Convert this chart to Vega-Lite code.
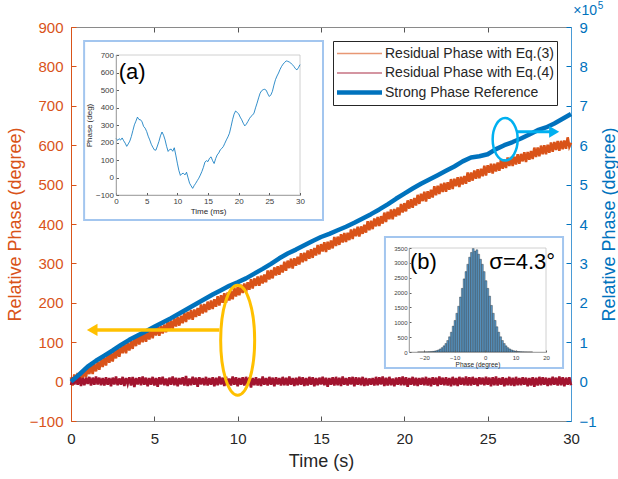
{
  "$schema": "https://vega.github.io/schema/vega-lite/v6.json",
  "width": 500,
  "height": 394,
  "autosize": {"type": "none"},
  "padding": {"left": 71, "top": 27, "right": 47, "bottom": 58},
  "background": "white",
  "config": {
    "view": {"stroke": null},
    "font": "Liberation Sans",
    "axis": {"grid": false, "labelFont": "Liberation Sans", "titleFont": "Liberation Sans", "titleFontWeight": "normal", "labelFlush": false}
  },
  "datasets": {
    "residual": [
      {"t":0,"e3":11,"e4":-9},{"t":0.1,"e3":-10,"e4":10},{"t":0.2,"e3":18,"e4":-7},{"t":0.3,"e3":-3,"e4":12},{"t":0.4,"e3":22,"e4":-8},{"t":0.5,"e3":-1,"e4":11},{"t":0.6,"e3":25,"e4":-11},{"t":0.7,"e3":7,"e4":9},{"t":0.8,"e3":34,"e4":-9},{"t":0.9,"e3":11,"e4":10},
      {"t":1,"e3":37,"e4":-6},{"t":1.1,"e3":19,"e4":12},{"t":1.2,"e3":43,"e4":-10},{"t":1.3,"e3":19,"e4":10},{"t":1.4,"e3":45,"e4":-8},{"t":1.5,"e3":26,"e4":13},{"t":1.6,"e3":49,"e4":-7},{"t":1.7,"e3":30,"e4":10},{"t":1.8,"e3":59,"e4":-9},{"t":1.9,"e3":37,"e4":9},
      {"t":2,"e3":61,"e4":-10},{"t":2.1,"e3":41,"e4":11},{"t":2.2,"e3":69,"e4":-8},{"t":2.3,"e3":48,"e4":9},{"t":2.4,"e3":73,"e4":-12},{"t":2.5,"e3":51,"e4":10},{"t":2.6,"e3":77,"e4":-7},{"t":2.7,"e3":59,"e4":13},{"t":2.8,"e3":86,"e4":-9},{"t":2.9,"e3":63,"e4":8},
      {"t":3,"e3":90,"e4":-8},{"t":3.1,"e3":72,"e4":12},{"t":3.2,"e3":96,"e4":-11},{"t":3.3,"e3":72,"e4":9},{"t":3.4,"e3":98,"e4":-6},{"t":3.5,"e3":79,"e4":11},{"t":3.6,"e3":103,"e4":-10},{"t":3.7,"e3":83,"e4":12},{"t":3.8,"e3":113,"e4":-14},{"t":3.9,"e3":90,"e4":9},
      {"t":4,"e3":115,"e4":-7},{"t":4.1,"e3":94,"e4":11},{"t":4.2,"e3":121,"e4":-9},{"t":4.3,"e3":100,"e4":13},{"t":4.4,"e3":124,"e4":-8},{"t":4.5,"e3":101,"e4":10},{"t":4.6,"e3":126,"e4":-12},{"t":4.7,"e3":107,"e4":9},{"t":4.8,"e3":134,"e4":-8},{"t":4.9,"e3":110,"e4":12},
      {"t":5,"e3":136,"e4":-10},{"t":5.1,"e3":117,"e4":9},{"t":5.2,"e3":141,"e4":-13},{"t":5.3,"e3":116,"e4":11},{"t":5.4,"e3":142,"e4":-7},{"t":5.5,"e3":122,"e4":12},{"t":5.6,"e3":145,"e4":-9},{"t":5.7,"e3":125,"e4":8},{"t":5.8,"e3":154,"e4":-11},{"t":5.9,"e3":131,"e4":10},
      {"t":6,"e3":155,"e4":-8},{"t":6.1,"e3":134,"e4":13},{"t":6.2,"e3":161,"e4":-9},{"t":6.3,"e3":140,"e4":10},{"t":6.4,"e3":164,"e4":-12},{"t":6.5,"e3":142,"e4":9},{"t":6.6,"e3":167,"e4":-7},{"t":6.7,"e3":148,"e4":11},{"t":6.8,"e3":175,"e4":-10},{"t":6.9,"e3":151,"e4":14},
      {"t":7,"e3":177,"e4":-11},{"t":7.1,"e3":158,"e4":8},{"t":7.2,"e3":182,"e4":-9},{"t":7.3,"e3":157,"e4":12},{"t":7.4,"e3":183,"e4":-8},{"t":7.5,"e3":164,"e4":10},{"t":7.6,"e3":187,"e4":-13},{"t":7.7,"e3":167,"e4":11},{"t":7.8,"e3":196,"e4":-7},{"t":7.9,"e3":173,"e4":9},
      {"t":8,"e3":197,"e4":-9},{"t":8.1,"e3":176,"e4":12},{"t":8.2,"e3":203,"e4":-10},{"t":8.3,"e3":182,"e4":9},{"t":8.4,"e3":206,"e4":-8},{"t":8.5,"e3":184,"e4":11},{"t":8.6,"e3":209,"e4":-12},{"t":8.7,"e3":190,"e4":10},{"t":8.8,"e3":217,"e4":-9},{"t":8.9,"e3":193,"e4":13},
      {"t":9,"e3":219,"e4":-7},{"t":9.1,"e3":200,"e4":10},{"t":9.2,"e3":224,"e4":-11},{"t":9.3,"e3":200,"e4":12},{"t":9.4,"e3":226,"e4":-9},{"t":9.5,"e3":206,"e4":8},{"t":9.6,"e3":229,"e4":-10},{"t":9.7,"e3":209,"e4":13},{"t":9.8,"e3":239,"e4":-8},{"t":9.9,"e3":216,"e4":11},
      {"t":10,"e3":240,"e4":-12},{"t":10.1,"e3":219,"e4":9},{"t":10.2,"e3":246,"e4":-8},{"t":10.3,"e3":225,"e4":11},{"t":10.4,"e3":249,"e4":-10},{"t":10.5,"e3":227,"e4":12},{"t":10.6,"e3":252,"e4":-7},{"t":10.7,"e3":233,"e4":10},{"t":10.8,"e3":260,"e4":-15},{"t":10.9,"e3":236,"e4":9},
      {"t":11,"e3":262,"e4":-9},{"t":11.1,"e3":243,"e4":11},{"t":11.2,"e3":267,"e4":-10},{"t":11.3,"e3":243,"e4":8},{"t":11.4,"e3":269,"e4":-11},{"t":11.5,"e3":249,"e4":13},{"t":11.6,"e3":272,"e4":-8},{"t":11.7,"e3":252,"e4":9},{"t":11.8,"e3":282,"e4":-10},{"t":11.9,"e3":259,"e4":12},
      {"t":12,"e3":283,"e4":-8},{"t":12.1,"e3":262,"e4":10},{"t":12.2,"e3":290,"e4":-12},{"t":12.3,"e3":269,"e4":11},{"t":12.4,"e3":293,"e4":-7},{"t":12.5,"e3":271,"e4":9},{"t":12.6,"e3":296,"e4":-10},{"t":12.7,"e3":277,"e4":12},{"t":12.8,"e3":304,"e4":-9},{"t":12.9,"e3":281,"e4":10},
      {"t":13,"e3":307,"e4":-10},{"t":13.1,"e3":288,"e4":13},{"t":13.2,"e3":312,"e4":-8},{"t":13.3,"e3":287,"e4":9},{"t":13.4,"e3":313,"e4":-11},{"t":13.5,"e3":294,"e4":10},{"t":13.6,"e3":317,"e4":-9},{"t":13.7,"e3":297,"e4":12},{"t":13.8,"e3":326,"e4":-8},{"t":13.9,"e3":303,"e4":11},
      {"t":14,"e3":327,"e4":-11},{"t":14.1,"e3":306,"e4":9},{"t":14.2,"e3":333,"e4":-10},{"t":14.3,"e3":312,"e4":12},{"t":14.4,"e3":336,"e4":-8},{"t":14.5,"e3":314,"e4":11},{"t":14.6,"e3":339,"e4":-12},{"t":14.7,"e3":320,"e4":9},{"t":14.8,"e3":347,"e4":-9},{"t":14.9,"e3":323,"e4":10},
      {"t":15,"e3":349,"e4":-7},{"t":15.1,"e3":330,"e4":12},{"t":15.2,"e3":354,"e4":-9},{"t":15.3,"e3":329,"e4":10},{"t":15.4,"e3":355,"e4":-13},{"t":15.5,"e3":335,"e4":9},{"t":15.6,"e3":358,"e4":-8},{"t":15.7,"e3":338,"e4":11},{"t":15.8,"e3":367,"e4":-10},{"t":15.9,"e3":344,"e4":12},
      {"t":16,"e3":368,"e4":-9},{"t":16.1,"e3":347,"e4":10},{"t":16.2,"e3":374,"e4":-11},{"t":16.3,"e3":353,"e4":13},{"t":16.4,"e3":377,"e4":-8},{"t":16.5,"e3":354,"e4":9},{"t":16.6,"e3":378,"e4":-10},{"t":16.7,"e3":359,"e4":11},{"t":16.8,"e3":386,"e4":-7},{"t":16.9,"e3":362,"e4":12},
      {"t":17,"e3":388,"e4":-12},{"t":17.1,"e3":369,"e4":11},{"t":17.2,"e3":393,"e4":-8},{"t":17.3,"e3":368,"e4":10},{"t":17.4,"e3":394,"e4":-9},{"t":17.5,"e3":375,"e4":12},{"t":17.6,"e3":398,"e4":-11},{"t":17.7,"e3":378,"e4":9},{"t":17.8,"e3":407,"e4":-10},{"t":17.9,"e3":384,"e4":8},
      {"t":18,"e3":408,"e4":-8},{"t":18.1,"e3":387,"e4":9},{"t":18.2,"e3":414,"e4":-10},{"t":18.3,"e3":394,"e4":12},{"t":18.4,"e3":418,"e4":-9},{"t":18.5,"e3":395,"e4":11},{"t":18.6,"e3":420,"e4":-7},{"t":18.7,"e3":401,"e4":13},{"t":18.8,"e3":429,"e4":-11},{"t":18.9,"e3":405,"e4":10},
      {"t":19,"e3":431,"e4":-10},{"t":19.1,"e3":412,"e4":12},{"t":19.2,"e3":437,"e4":-9},{"t":19.3,"e3":412,"e4":8},{"t":19.4,"e3":438,"e4":-12},{"t":19.5,"e3":419,"e4":10},{"t":19.6,"e3":442,"e4":-8},{"t":19.7,"e3":422,"e4":11},{"t":19.8,"e3":451,"e4":-9},{"t":19.9,"e3":429,"e4":13},
      {"t":20,"e3":453,"e4":-9},{"t":20.1,"e3":432,"e4":11},{"t":20.2,"e3":460,"e4":-13},{"t":20.3,"e3":439,"e4":9},{"t":20.4,"e3":463,"e4":-8},{"t":20.5,"e3":441,"e4":12},{"t":20.6,"e3":466,"e4":-10},{"t":20.7,"e3":447,"e4":10},{"t":20.8,"e3":474,"e4":-11},{"t":20.9,"e3":451,"e4":9},
      {"t":21,"e3":477,"e4":-8},{"t":21.1,"e3":458,"e4":10},{"t":21.2,"e3":482,"e4":-9},{"t":21.3,"e3":457,"e4":12},{"t":21.4,"e3":483,"e4":-10},{"t":21.5,"e3":464,"e4":9},{"t":21.6,"e3":487,"e4":-12},{"t":21.7,"e3":467,"e4":11},{"t":21.8,"e3":496,"e4":-8},{"t":21.9,"e3":473,"e4":10},
      {"t":22,"e3":497,"e4":-11},{"t":22.1,"e3":476,"e4":13},{"t":22.2,"e3":502,"e4":-8},{"t":22.3,"e3":481,"e4":10},{"t":22.4,"e3":505,"e4":-9},{"t":22.5,"e3":482,"e4":11},{"t":22.6,"e3":506,"e4":-10},{"t":22.7,"e3":487,"e4":9},{"t":22.8,"e3":514,"e4":-12},{"t":22.9,"e3":489,"e4":12},
      {"t":23,"e3":515,"e4":-9},{"t":23.1,"e3":496,"e4":9},{"t":23.2,"e3":519,"e4":-11},{"t":23.3,"e3":494,"e4":12},{"t":23.4,"e3":520,"e4":-8},{"t":23.5,"e3":500,"e4":10},{"t":23.6,"e3":522,"e4":-9},{"t":23.7,"e3":502,"e4":13},{"t":23.8,"e3":531,"e4":-10},{"t":23.9,"e3":507,"e4":11},
      {"t":24,"e3":531,"e4":-10},{"t":24.1,"e3":510,"e4":12},{"t":24.2,"e3":536,"e4":-8},{"t":24.3,"e3":515,"e4":9},{"t":24.4,"e3":539,"e4":-11},{"t":24.5,"e3":516,"e4":11},{"t":24.6,"e3":540,"e4":-7},{"t":24.7,"e3":521,"e4":10},{"t":24.8,"e3":548,"e4":-9},{"t":24.9,"e3":523,"e4":12},
      {"t":25,"e3":549,"e4":-8},{"t":25.1,"e3":530,"e4":10},{"t":25.2,"e3":553,"e4":-12},{"t":25.3,"e3":528,"e4":11},{"t":25.4,"e3":553,"e4":-9},{"t":25.5,"e3":533,"e4":13},{"t":25.6,"e3":556,"e4":-10},{"t":25.7,"e3":535,"e4":9},{"t":25.8,"e3":564,"e4":-8},{"t":25.9,"e3":540,"e4":11},
      {"t":26,"e3":564,"e4":-12},{"t":26.1,"e3":542,"e4":9},{"t":26.2,"e3":569,"e4":-9},{"t":26.3,"e3":547,"e4":12},{"t":26.4,"e3":570,"e4":-10},{"t":26.5,"e3":547,"e4":10},{"t":26.6,"e3":571,"e4":-11},{"t":26.7,"e3":551,"e4":12},{"t":26.8,"e3":577,"e4":-9},{"t":26.9,"e3":553,"e4":9},
      {"t":27,"e3":578,"e4":-9},{"t":27.1,"e3":559,"e4":11},{"t":27.2,"e3":582,"e4":-8},{"t":27.3,"e3":557,"e4":10},{"t":27.4,"e3":583,"e4":-12},{"t":27.5,"e3":563,"e4":9},{"t":27.6,"e3":585,"e4":-10},{"t":27.7,"e3":565,"e4":11},{"t":27.8,"e3":594,"e4":-13},{"t":27.9,"e3":570,"e4":10},
      {"t":28,"e3":594,"e4":-10},{"t":28.1,"e3":572,"e4":12},{"t":28.2,"e3":599,"e4":-9},{"t":28.3,"e3":577,"e4":11},{"t":28.4,"e3":600,"e4":-8},{"t":28.5,"e3":577,"e4":10},{"t":28.6,"e3":601,"e4":-11},{"t":28.7,"e3":581,"e4":9},{"t":28.8,"e3":607,"e4":-9},{"t":28.9,"e3":583,"e4":12},
      {"t":29,"e3":608,"e4":-8},{"t":29.1,"e3":588,"e4":10},{"t":29.2,"e3":611,"e4":-10},{"t":29.3,"e3":586,"e4":13},{"t":29.4,"e3":611,"e4":-9},{"t":29.5,"e3":590,"e4":11},{"t":29.6,"e3":612,"e4":-12},{"t":29.7,"e3":591,"e4":10},{"t":29.8,"e3":620,"e4":-8},{"t":29.9,"e3":596,"e4":11},
      {"t":30,"e3":606,"e4":-9}
    ],
    "reference": [
      {"t":0,"phase":0},{"t":0.5,"phase":18000},{"t":1,"phase":38000},{"t":1.5,"phase":53000},{"t":2,"phase":66000},{"t":2.5,"phase":79000},{"t":3,"phase":93000},{"t":3.5,"phase":106000},{"t":4,"phase":117000},{"t":4.5,"phase":128000},
      {"t":5,"phase":139000},{"t":5.5,"phase":150000},{"t":6,"phase":161000},{"t":6.5,"phase":173000},{"t":7,"phase":185000},{"t":7.5,"phase":197000},{"t":8,"phase":209000},{"t":8.5,"phase":221000},{"t":9,"phase":232000},{"t":9.5,"phase":243000},
      {"t":10,"phase":252000},{"t":10.5,"phase":262000},{"t":11,"phase":274000},{"t":11.5,"phase":286000},{"t":12,"phase":299000},{"t":12.5,"phase":313000},{"t":13,"phase":325000},{"t":13.5,"phase":335000},{"t":14,"phase":346000},{"t":14.5,"phase":357000},
      {"t":15,"phase":367000},{"t":15.5,"phase":375000},{"t":16,"phase":384000},{"t":16.5,"phase":393000},{"t":17,"phase":403000},{"t":17.5,"phase":414000},{"t":18,"phase":425000},{"t":18.5,"phase":437000},{"t":19,"phase":450000},{"t":19.5,"phase":464000},
      {"t":20,"phase":477000},{"t":20.5,"phase":490000},{"t":21,"phase":502000},{"t":21.5,"phase":513000},{"t":22,"phase":524000},{"t":22.5,"phase":535000},{"t":23,"phase":546000},{"t":23.5,"phase":559000},{"t":24,"phase":569000},{"t":24.5,"phase":572000},
      {"t":25,"phase":577000},{"t":25.5,"phase":590000},{"t":26,"phase":600000},{"t":26.5,"phase":608000},{"t":27,"phase":617000},{"t":27.5,"phase":627000},{"t":28,"phase":638000},{"t":28.5,"phase":645000},{"t":29,"phase":655000},{"t":29.5,"phase":667000},
      {"t":30,"phase":679000}
    ],
    "detail": [
      {"ms":0,"deg":225},{"ms":0.25,"deg":212},{"ms":0.5,"deg":222},{"ms":0.75,"deg":214},{"ms":1,"deg":226},{"ms":1.25,"deg":210},{"ms":1.5,"deg":196},{"ms":1.75,"deg":178},{"ms":2,"deg":192},{"ms":2.25,"deg":208},
      {"ms":2.5,"deg":234},{"ms":2.75,"deg":268},{"ms":3,"deg":301},{"ms":3.25,"deg":322},{"ms":3.5,"deg":345},{"ms":3.75,"deg":331},{"ms":4,"deg":330},{"ms":4.25,"deg":318},{"ms":4.5,"deg":292},{"ms":4.75,"deg":282},
      {"ms":5,"deg":263},{"ms":5.25,"deg":236},{"ms":5.5,"deg":215},{"ms":5.75,"deg":190},{"ms":6,"deg":173},{"ms":6.25,"deg":158},{"ms":6.5,"deg":156},{"ms":6.75,"deg":180},{"ms":7,"deg":206},{"ms":7.25,"deg":238},
      {"ms":7.5,"deg":260},{"ms":7.75,"deg":242},{"ms":8,"deg":215},{"ms":8.25,"deg":178},{"ms":8.5,"deg":149},{"ms":8.75,"deg":160},{"ms":9,"deg":162},{"ms":9.25,"deg":150},{"ms":9.5,"deg":170},{"ms":9.75,"deg":128},
      {"ms":10,"deg":82},{"ms":10.25,"deg":40},{"ms":10.5,"deg":12},{"ms":10.75,"deg":22},{"ms":11,"deg":24},{"ms":11.25,"deg":15},{"ms":11.5,"deg":30},{"ms":11.75,"deg":-2},{"ms":12,"deg":-33},{"ms":12.25,"deg":-48},
      {"ms":12.5,"deg":-62},{"ms":12.75,"deg":-46},{"ms":13,"deg":-33},{"ms":13.25,"deg":-18},{"ms":13.5,"deg":-4},{"ms":13.75,"deg":14},{"ms":14,"deg":34},{"ms":14.25,"deg":58},{"ms":14.5,"deg":88},{"ms":14.75,"deg":96},
      {"ms":15,"deg":91},{"ms":15.25,"deg":110},{"ms":15.5,"deg":118},{"ms":15.75,"deg":96},{"ms":16,"deg":80},{"ms":16.25,"deg":108},{"ms":16.5,"deg":129},{"ms":16.75,"deg":140},{"ms":17,"deg":158},{"ms":17.25,"deg":166},
      {"ms":17.5,"deg":177},{"ms":17.75,"deg":196},{"ms":18,"deg":215},{"ms":18.25,"deg":232},{"ms":18.5,"deg":253},{"ms":18.75,"deg":290},{"ms":19,"deg":330},{"ms":19.25,"deg":362},{"ms":19.5,"deg":380},{"ms":19.75,"deg":372},
      {"ms":20,"deg":364},{"ms":20.25,"deg":345},{"ms":20.5,"deg":330},{"ms":20.75,"deg":310},{"ms":21,"deg":295},{"ms":21.25,"deg":305},{"ms":21.5,"deg":320},{"ms":21.75,"deg":336},{"ms":22,"deg":349},{"ms":22.25,"deg":356},
      {"ms":22.5,"deg":368},{"ms":22.75,"deg":398},{"ms":23,"deg":425},{"ms":23.25,"deg":455},{"ms":23.5,"deg":482},{"ms":23.75,"deg":496},{"ms":24,"deg":502},{"ms":24.25,"deg":504},{"ms":24.5,"deg":498},{"ms":24.75,"deg":478},
      {"ms":25,"deg":463},{"ms":25.25,"deg":472},{"ms":25.5,"deg":492},{"ms":25.75,"deg":528},{"ms":26,"deg":559},{"ms":26.25,"deg":580},{"ms":26.5,"deg":597},{"ms":26.75,"deg":618},{"ms":27,"deg":635},{"ms":27.25,"deg":648},
      {"ms":27.5,"deg":658},{"ms":27.75,"deg":666},{"ms":28,"deg":664},{"ms":28.25,"deg":660},{"ms":28.5,"deg":654},{"ms":28.75,"deg":645},{"ms":29,"deg":635},{"ms":29.25,"deg":622},{"ms":29.5,"deg":615},{"ms":29.75,"deg":628},
      {"ms":30,"deg":645}
    ],
    "histogram": [
      {"lo":-22.2,"hi":-21.6,"n":1},{"lo":-21.6,"hi":-21.0,"n":1},{"lo":-21.0,"hi":-20.4,"n":1},{"lo":-20.4,"hi":-19.8,"n":2},{"lo":-19.8,"hi":-19.2,"n":3},{"lo":-19.2,"hi":-18.6,"n":5},{"lo":-18.6,"hi":-18.0,"n":8},{"lo":-18.0,"hi":-17.4,"n":13},
      {"lo":-17.4,"hi":-16.8,"n":20},{"lo":-16.8,"hi":-16.2,"n":31},{"lo":-16.2,"hi":-15.6,"n":47},{"lo":-15.6,"hi":-15.0,"n":70},{"lo":-15.0,"hi":-14.4,"n":103},{"lo":-14.4,"hi":-13.8,"n":147},{"lo":-13.8,"hi":-13.2,"n":207},{"lo":-13.2,"hi":-12.6,"n":285},
      {"lo":-12.6,"hi":-12.0,"n":386},{"lo":-12.0,"hi":-11.4,"n":512},{"lo":-11.4,"hi":-10.8,"n":666},{"lo":-10.8,"hi":-10.2,"n":870},{"lo":-10.2,"hi":-9.6,"n":1062},{"lo":-9.6,"hi":-9.0,"n":1303},{"lo":-9.0,"hi":-8.4,"n":1540},{"lo":-8.4,"hi":-7.8,"n":1850},
      {"lo":-7.8,"hi":-7.2,"n":2141},{"lo":-7.2,"hi":-6.6,"n":2460},{"lo":-6.6,"hi":-6.0,"n":2705},{"lo":-6.0,"hi":-5.4,"n":2952},{"lo":-5.4,"hi":-4.8,"n":3190},{"lo":-4.8,"hi":-4.2,"n":3350},{"lo":-4.2,"hi":-3.6,"n":3480},{"lo":-3.6,"hi":-3.0,"n":3390},
      {"lo":-3.0,"hi":-2.4,"n":3440},{"lo":-2.4,"hi":-1.8,"n":3290},{"lo":-1.8,"hi":-1.2,"n":3120},{"lo":-1.2,"hi":-0.6,"n":2952},{"lo":-0.6,"hi":0.0,"n":2705},{"lo":0.0,"hi":0.6,"n":2400},{"lo":0.6,"hi":1.2,"n":2141},{"lo":1.2,"hi":1.8,"n":1880},
      {"lo":1.8,"hi":2.4,"n":1568},{"lo":2.4,"hi":3.0,"n":1303},{"lo":3.0,"hi":3.6,"n":1062},{"lo":3.6,"hi":4.2,"n":849},{"lo":4.2,"hi":4.8,"n":666},{"lo":4.8,"hi":5.4,"n":512},{"lo":5.4,"hi":6.0,"n":386},{"lo":6.0,"hi":6.6,"n":285},
      {"lo":6.6,"hi":7.2,"n":207},{"lo":7.2,"hi":7.8,"n":147},{"lo":7.8,"hi":8.4,"n":103},{"lo":8.4,"hi":9.0,"n":70},{"lo":9.0,"hi":9.6,"n":47},{"lo":9.6,"hi":10.2,"n":31},{"lo":10.2,"hi":10.8,"n":20},{"lo":10.8,"hi":11.4,"n":13},
      {"lo":11.4,"hi":12.0,"n":8},{"lo":12.0,"hi":12.6,"n":5},{"lo":12.6,"hi":13.2,"n":3},{"lo":13.2,"hi":13.8,"n":2},{"lo":13.8,"hi":14.4,"n":1},{"lo":14.4,"hi":15.0,"n":1},{"lo":15.0,"hi":15.6,"n":1}
    ],
    "callouts": [
      {"side":"left","t":10,"v":105,"from":8.9,"to":1.5,"tip":1.27,"level":131},
      {"side":"right","t":26.05,"v":615,"from":26.75,"to":28.8,"tip":28.99,"level":634}
    ]
  },
  "resolve": {"scale": {"x": "independent", "y": "independent"}},
  "layer": [
    {
      "data": {"name": "residual"},
      "transform": [{"fold": ["e3", "e4"], "as": ["series", "value"]}],
      "mark": {"type": "line", "strokeWidth": 2.6},
      "encoding": {
        "x": {"field": "t", "type": "quantitative", "scale": {"domain": [0, 30], "nice": false, "zero": false},
          "axis": {"orient": "bottom", "values": [0, 5, 10, 15, 20, 25, 30], "title": "Time (s)", "titleFontSize": 18, "titleColor": "#262626", "titlePadding": 6,
            "labelFontSize": 15, "labelColor": "#262626", "labelPadding": 15, "tickSize": -5, "tickColor": "#555555", "domainColor": "#8a8a8a"}},
        "y": {"field": "value", "type": "quantitative", "scale": {"domain": [-100, 900], "nice": false, "zero": false},
          "axis": {"orient": "left", "values": [-100, 0, 100, 200, 300, 400, 500, 600, 700, 800, 900], "title": "Relative Phase (degree)", "titleFontSize": 18, "titleColor": "#D95319", "titlePadding": 5,
            "labelFontSize": 15, "labelColor": "#D95319", "labelPadding": 13, "tickSize": -5, "tickColor": "#D95319", "domainColor": "#D95319"}},
        "color": {"field": "series", "type": "nominal",
          "scale": {"domain": ["e3", "e4", "ref"], "range": ["#D95319", "#A2142F", "#0072BD"]},
          "legend": {"orient": "top-right", "offset": 14, "title": null,
            "labelExpr": "datum.value == 'e3' ? 'Residual Phase with Eq.(3)' : datum.value == 'e4' ? 'Residual Phase with Eq.(4)' : 'Strong Phase Reference'",
            "symbolType": "stroke", "symbolSize": 2025, "symbolStrokeWidth": 1.2, "labelFontSize": 14, "labelColor": "#262626", "labelFont": "Liberation Sans", "labelOffset": 2, "labelLimit": 0,
            "clipHeight": 19, "rowPadding": 0.5, "padding": 3, "strokeColor": "#262626", "fillColor": "white",
            "encode": {"symbols": {"update": {
              "strokeWidth": {"signal": "(datum.value === 'ref' ? 4.5 : 1.3)"},
              "opacity": {"signal": "(datum.value === 'ref' ? 1 : 0.6)"}}}}}}
      }
    },
    {
      "data": {"name": "reference"},
      "mark": {"type": "line", "strokeWidth": 4.5, "strokeJoin": "round"},
      "encoding": {
        "x": {"field": "t", "type": "quantitative", "scale": {"domain": [0, 30], "nice": false, "zero": false},
          "axis": {"orient": "top", "values": [0, 5, 10, 15, 20, 25, 30], "title": null, "labels": false, "tickSize": -5, "tickColor": "#555555", "domainColor": "#8a8a8a"}},
        "y": {"field": "phase", "type": "quantitative", "scale": {"domain": [-100000, 900000], "nice": false, "zero": false},
          "axis": {"orient": "right", "values": [-100000, 0, 100000, 200000, 300000, 400000, 500000, 600000, 700000, 800000, 900000],
            "labelExpr": "format(datum.value / 100000, 'd')", "title": "Relative Phase (degree)", "titleAngle": 270, "titleBaseline": "top", "titleFontSize": 18, "titleColor": "#0072BD", "titlePadding": 4,
            "labelFontSize": 15, "labelColor": "#0072BD", "labelPadding": 13, "tickSize": -5, "tickColor": "#0072BD", "domainColor": "#4A9BD6"}},
        "color": {"datum": "ref", "type": "nominal"}
      }
    },
    {
      "data": {"name": "callouts"},
      "transform": [{"filter": "datum.side == 'left'"}],
      "layer": [
        {"mark": {"type": "point", "shape": "M -0.309 0 A 0.309 1 0 1 0 0.309 0 A 0.309 1 0 1 0 -0.309 0 Z", "size": 12100, "filled": false, "stroke": "#FFC000", "strokeWidth": 3, "opacity": 1},
         "encoding": {"x": {"field": "t", "type": "quantitative", "scale": {"domain": [0, 30], "nice": false, "zero": false}, "axis": null},
                      "y": {"field": "v", "type": "quantitative", "scale": {"domain": [-100, 900], "nice": false, "zero": false}, "axis": null}}},
        {"mark": {"type": "rule", "stroke": "#FFC000", "strokeWidth": 3.5},
         "encoding": {"x": {"field": "from", "type": "quantitative"}, "x2": {"field": "to"}, "y": {"field": "level", "type": "quantitative"}}},
        {"mark": {"type": "point", "shape": "triangle-left", "size": 150, "filled": true, "fill": "#FFC000", "strokeWidth": 0, "opacity": 1},
         "encoding": {"x": {"field": "tip", "type": "quantitative"}, "y": {"field": "level", "type": "quantitative"}}}
      ]
    },
    {
      "data": {"name": "callouts"},
      "transform": [{"filter": "datum.side == 'right'"}],
      "layer": [
        {"mark": {"type": "point", "shape": "M -0.59 0 A 0.59 1 0 1 0 0.59 0 A 0.59 1 0 1 0 -0.59 0 Z", "size": 1798, "filled": false, "stroke": "#00B0F0", "strokeWidth": 2.5, "opacity": 1},
         "encoding": {"x": {"field": "t", "type": "quantitative", "scale": {"domain": [0, 30], "nice": false, "zero": false}, "axis": null},
                      "y": {"field": "v", "type": "quantitative", "scale": {"domain": [-100, 900], "nice": false, "zero": false}, "axis": null}}},
        {"mark": {"type": "rule", "stroke": "#00B0F0", "strokeWidth": 3},
         "encoding": {"x": {"field": "from", "type": "quantitative"}, "x2": {"field": "to"}, "y": {"field": "level", "type": "quantitative"}}},
        {"mark": {"type": "point", "shape": "triangle-right", "size": 137, "filled": true, "fill": "#00B0F0", "strokeWidth": 0, "opacity": 1},
         "encoding": {"x": {"field": "tip", "type": "quantitative"}, "y": {"field": "level", "type": "quantitative"}}}
      ]
    },
    {
      "layer": [
        {"data": {"values": [{}]},
         "mark": {"type": "rect", "fill": "white", "stroke": "#A3C6EF", "strokeWidth": 2},
         "encoding": {
           "x": {"datum": -5.2, "type": "quantitative", "scale": {"domain": [0, 30], "range": [45, 229], "nice": false, "zero": false},
             "axis": {"orient": "bottom", "offset": -226, "zindex": 1, "values": [0, 5, 10, 15, 20, 25, 30], "title": "Time (ms)", "titleFontSize": 8, "titleColor": "#262626", "titlePadding": 2,
               "labelFontSize": 8, "labelColor": "#404040", "labelPadding": 5, "tickSize": -2.5, "tickColor": "#606060", "domainColor": "#9a9a9a", "domainWidth": 0.8}},
           "x2": {"datum": 33.75},
           "y": {"datum": -243, "type": "quantitative", "scale": {"domain": [-100, 700], "range": [168, 28], "nice": false, "zero": false},
             "axis": {"orient": "left", "offset": -45, "zindex": 1, "values": [-100, 0, 100, 200, 300, 400, 500, 600, 700], "format": "d", "title": "Phase (deg)", "titleFontSize": 8, "titleColor": "#262626", "titlePadding": 2,
               "labelFontSize": 8, "labelColor": "#404040", "labelPadding": 5, "tickSize": -2.5, "tickColor": "#606060", "domainColor": "#9a9a9a", "domainWidth": 0.8}},
           "y2": {"datum": 780}}},
        {"data": {"values": [{}]},
         "mark": {"type": "rect", "filled": false, "color": "#C4C4C4", "strokeWidth": 0.8},
         "encoding": {"x": {"datum": 0, "type": "quantitative"}, "x2": {"datum": 30}, "y": {"datum": -100, "type": "quantitative"}, "y2": {"datum": 700}}},
        {"data": {"name": "detail"},
         "mark": {"type": "line", "color": "#0072BD", "strokeWidth": 0.8},
         "encoding": {"x": {"field": "ms", "type": "quantitative"}, "y": {"field": "deg", "type": "quantitative"}}},
        {"data": {"values": [{}]},
         "mark": {"type": "text", "text": "(a)", "fontSize": 22, "align": "left", "baseline": "middle", "color": "black"},
         "encoding": {"x": {"datum": 0.45, "type": "quantitative"}, "y": {"datum": 604, "type": "quantitative"}}}
      ]
    },
    {
      "layer": [
        {"data": {"values": [{}]},
         "mark": {"type": "rect", "fill": "white", "stroke": "#A3C6EF", "strokeWidth": 2},
         "encoding": {
           "x": {"datum": -32.9, "type": "quantitative", "scale": {"domain": [-25, 20], "range": [338, 475], "nice": false, "zero": false},
             "axis": {"orient": "bottom", "offset": -69, "zindex": 1, "values": [-20, -10, 0, 10, 20], "format": "d", "title": "Phase (degree)", "titleFontSize": 6.5, "titleColor": "#262626", "titlePadding": 1,
               "labelFontSize": 6, "labelColor": "#404040", "labelPadding": 4, "tickSize": -2, "tickColor": "#606060", "domainColor": "#9a9a9a", "domainWidth": 0.8}},
           "x2": {"datum": 25.6},
           "y": {"datum": -538, "type": "quantitative", "scale": {"domain": [0, 3500], "range": [325, 221], "nice": false, "zero": false},
             "axis": {"orient": "left", "offset": -338, "zindex": 1, "values": [0, 500, 1000, 1500, 2000, 2500, 3000, 3500], "format": "d", "title": null,
               "labelFontSize": 6, "labelColor": "#404040", "labelPadding": 4, "tickSize": -2, "tickColor": "#606060", "domainColor": "#9a9a9a", "domainWidth": 0.8}},
           "y2": {"datum": 3870}}},
        {"data": {"values": [{}]},
         "mark": {"type": "rect", "filled": false, "color": "#C4C4C4", "strokeWidth": 0.8},
         "encoding": {"x": {"datum": -25, "type": "quantitative"}, "x2": {"datum": 20}, "y": {"datum": 0, "type": "quantitative"}, "y2": {"datum": 3500}}},
        {"data": {"name": "histogram"},
         "mark": {"type": "rect", "fill": "#5B9BCB", "stroke": "#1A1A1A", "strokeWidth": 0.35},
         "encoding": {"x": {"field": "lo", "type": "quantitative"}, "x2": {"field": "hi"}, "y": {"field": "n", "type": "quantitative"}, "y2": {"datum": 0}}},
        {"data": {"values": [{}]},
         "mark": {"type": "text", "text": "(b)", "fontSize": 22, "align": "left", "baseline": "middle", "color": "black"},
         "encoding": {"x": {"datum": -24.67, "type": "quantitative"}, "y": {"datum": 3029, "type": "quantitative"}}},
        {"data": {"values": [{}]},
         "mark": {"type": "text", "text": "σ=4.3°", "fontSize": 22, "align": "left", "baseline": "middle", "color": "black"},
         "encoding": {"x": {"datum": 1.38, "type": "quantitative"}, "y": {"datum": 3029, "type": "quantitative"}}}
      ]
    },
    {
      "data": {"values": [{}]},
      "layer": [
        {"mark": {"type": "text", "text": "×10", "fontSize": 14, "align": "left", "baseline": "middle", "color": "#0072BD"},
         "encoding": {"x": {"datum": 30.14, "type": "quantitative", "scale": {"domain": [0, 30], "nice": false, "zero": false}, "axis": null},
                      "y": {"datum": 940000, "type": "quantitative", "scale": {"domain": [-100000, 900000], "nice": false, "zero": false}, "axis": null}}},
        {"mark": {"type": "text", "text": "5", "fontSize": 10, "align": "left", "baseline": "middle", "color": "#0072BD"},
         "encoding": {"x": {"datum": 31.6, "type": "quantitative"}, "y": {"datum": 953000, "type": "quantitative"}}}
      ]
    }
  ]
}
